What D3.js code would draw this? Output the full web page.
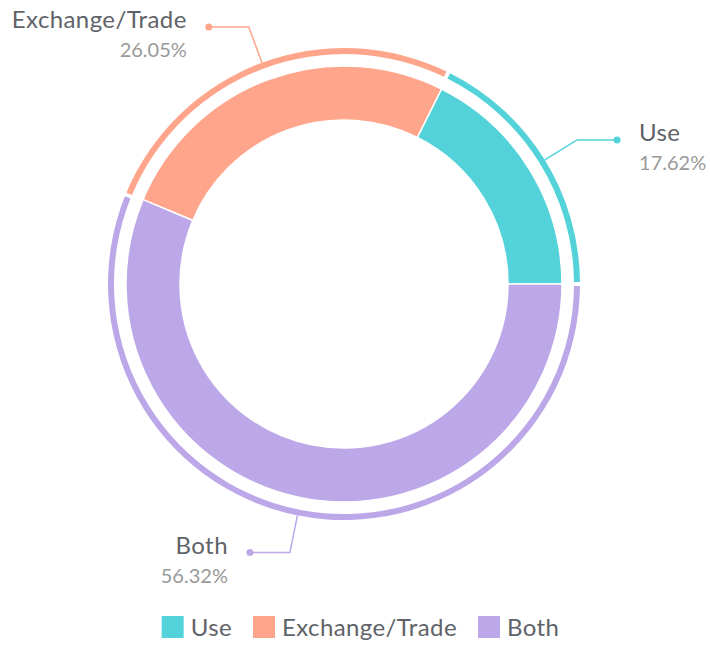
<!DOCTYPE html>
<html>
<head>
<meta charset="utf-8">
<script src="https://cdn.jsdelivr.net/npm/d3@7/dist/d3.min.js"></script>
<style>
  html, body { margin: 0; padding: 0; background: #fff; }
  svg { display: block; font-family: Lato, "Noto Sans", sans-serif; }
</style>
</head>
<body>
<svg id="chart" width="710" height="646"></svg>
<script>
// Share of responses per category
const categories = ["Use", "Exchange/Trade", "Both"];
const shares = [17.62, 26.05, 56.32];
const colors = ["#53d3d9", "#ffa58b", "#bca8e8"];

const svg = d3.select("#chart");
const cx = 344, cy = 284;
const innerR = 164, outerR = 218;
const ringInner = 230, ringOuter = 236;
const elbowR = 274, tailLen = 40;

const data = categories.map((c, i) => ({ name: c, value: shares[i], color: colors[i] }));

// Slices run counter-clockwise starting at three o'clock
function slices(pad) {
  return d3.pie().sort(null).value(d => d.value).padAngle(pad)(data).map(s => ({
    data: s.data,
    startAngle: Math.PI / 2 - s.endAngle,
    endAngle: Math.PI / 2 - s.startAngle,
    padAngle: s.padAngle
  }));
}

const g = svg.append("g").attr("transform", `translate(${cx},${cy})`);

// main donut
const mainArc = d3.arc().innerRadius(innerR).outerRadius(outerR);
g.selectAll("path.main").data(slices(0)).join("path")
  .attr("class", "main")
  .attr("d", mainArc)
  .attr("fill", d => d.data.color)
  .attr("stroke", "#fff")
  .attr("stroke-width", 1.5);

// thin outer ring
const ringArc = d3.arc().innerRadius(ringInner).outerRadius(ringOuter);
g.selectAll("path.ring").data(slices(0.012)).join("path")
  .attr("class", "ring")
  .attr("d", ringArc)
  .attr("fill", d => d.data.color);

// leader lines and labels
const labelData = slices(0);
labelData.forEach(s => {
  const a = (s.startAngle + s.endAngle) / 2;
  const sx = Math.sin(a), cy_ = -Math.cos(a);
  const p0 = [ringOuter * sx, ringOuter * cy_];
  const p1 = [elbowR * sx, elbowR * cy_];
  const dir = sx >= 0 ? 1 : -1;
  const p2 = [p1[0] + dir * tailLen, p1[1]];
  g.append("path")
    .attr("d", d3.line()([p0, p1, p2]))
    .attr("fill", "none")
    .attr("stroke", s.data.color)
    .attr("stroke-width", 1.5);
  g.append("circle")
    .attr("cx", p2[0]).attr("cy", p2[1]).attr("r", 3.5)
    .attr("fill", s.data.color);
  const tx = p2[0] + dir * 22;
  const anchor = dir > 0 ? "start" : "end";
  g.append("text")
    .attr("x", tx).attr("y", p2[1] + 1)
    .attr("text-anchor", anchor)
    .attr("font-size", 24)
    .attr("letter-spacing", 0.4)
    .attr("fill", "#5f6368")
    .text(s.data.name);
  g.append("text")
    .attr("x", tx).attr("y", p2[1] + 30)
    .attr("text-anchor", anchor)
    .attr("font-size", 20)
    .attr("fill", "#999")
    .text(s.data.value.toFixed(2) + "%");
});

// legend
const legend = svg.append("g");
const sq = 22, gapText = 7, gapItem = 21;
let x = 0;
data.forEach(d => {
  const it = legend.append("g").attr("transform", `translate(${x},0)`);
  it.append("rect").attr("x", 0).attr("y", 616).attr("width", sq).attr("height", sq).attr("fill", d.color);
  const t = it.append("text").attr("x", sq + gapText).attr("y", 636)
    .attr("font-size", 24).attr("letter-spacing", 0.4)
    .attr("fill", "#5f6368").text(d.name);
  x += sq + gapText + t.node().getComputedTextLength() + gapItem;
});
const total = x - gapItem;
legend.attr("transform", `translate(${360.5 - total / 2},0)`);
</script>
</body>
</html>
